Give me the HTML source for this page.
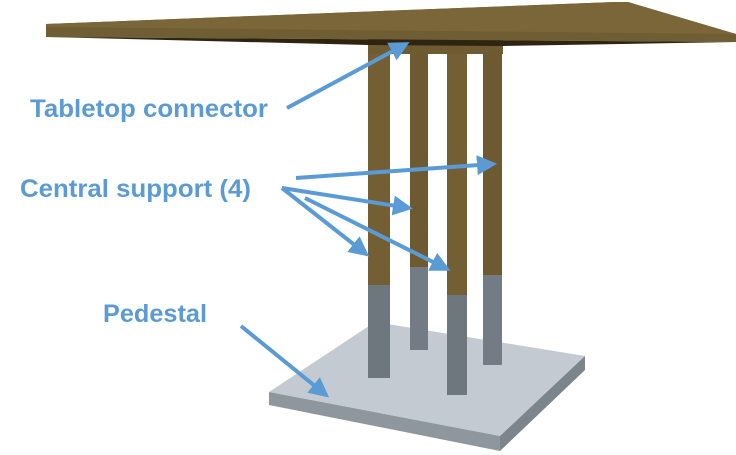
<!DOCTYPE html>
<html><head><meta charset="utf-8"><style>
html,body{margin:0;padding:0;background:#fff;}
svg{display:block;}
text{font-family:"Liberation Sans",sans-serif;font-weight:bold;fill:#5b9bd5;}
</style></head><body>
<svg width="736" height="455" viewBox="0 0 736 455">
<defs>
<marker id="ah" markerWidth="5" markerHeight="5" refX="4" refY="2.5" orient="auto" markerUnits="strokeWidth"><path d="M0,0 L5,2.5 L0,5 z" fill="#5b9bd5"/></marker>
</defs>
<g>
<polygon points="269,392 375,322 585,356 500,436" fill="#c3cad2"/>
<polygon points="269,392 500,436 500,451 269,405" fill="#8e969e"/>
<polygon points="500,436 585,356 585,370 500,451" fill="#7c848c"/>
</g>
<g>
<rect x="410" y="50" width="18" height="217" fill="#6d5a30"/>
<rect x="410" y="267" width="18" height="83" fill="#737b84"/>
<rect x="483" y="50" width="19" height="225" fill="#6d5a30"/>
<rect x="483" y="275" width="19" height="90" fill="#737b84"/>
<rect x="368" y="40" width="22" height="245" fill="#735f33"/>
<rect x="368" y="285" width="22" height="93" fill="#6e767e"/>
<rect x="447" y="50" width="20" height="245" fill="#735f33"/>
<rect x="447" y="295" width="20" height="100" fill="#6e767e"/>
</g>
<g>
<rect x="368" y="38" width="135" height="16" fill="#6e5b31"/>
</g>
<g>
<polygon points="46,24 615,2 628,2 736,34 736,42 46,37" fill="#6f5d33"/>
<polygon points="46,24 615,2 628,2 736,34 46,27" fill="#7a6639"/>
<polygon points="46,37 736,42 503,46 368,45" fill="#2e2410"/>
</g>
<g>
<text x="30" y="117" font-size="25" textLength="238" lengthAdjust="spacingAndGlyphs">Tabletop connector</text>
<text x="20" y="197" font-size="25" textLength="231" lengthAdjust="spacingAndGlyphs">Central support (4)</text>
<text x="103" y="322" font-size="25" textLength="104" lengthAdjust="spacingAndGlyphs">Pedestal</text>
</g>
<g stroke="#5b9bd5" stroke-width="4" fill="none">
<line x1="287" y1="108" x2="406" y2="44" marker-end="url(#ah)"/>
<line x1="296" y1="178" x2="493" y2="164" marker-end="url(#ah)"/>
<line x1="282" y1="188" x2="409" y2="208" marker-end="url(#ah)"/>
<line x1="282" y1="188" x2="366" y2="254" marker-end="url(#ah)"/>
<line x1="305" y1="198" x2="447" y2="269" marker-end="url(#ah)"/>
<line x1="241" y1="326" x2="326" y2="395" marker-end="url(#ah)"/>
</g>
</svg>
</body></html>
